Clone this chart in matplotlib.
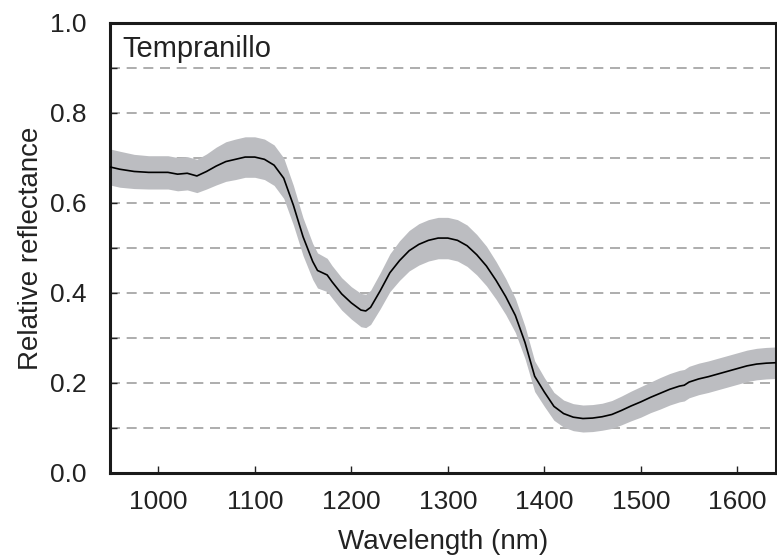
import numpy as np
import matplotlib.pyplot as plt

# wavelength (nm), mean relative reflectance and band half-width
wl = [950, 960, 975, 990, 1000, 1010, 1020, 1030, 1040, 1050, 1060, 1070, 1080, 1090,
      1100, 1110, 1120, 1130, 1140, 1150, 1160, 1165, 1170, 1175, 1180, 1190, 1200,
      1210, 1215, 1220, 1230, 1240, 1250, 1260, 1270, 1280, 1290, 1300, 1310, 1320,
      1330, 1340, 1350, 1360, 1370, 1380, 1390, 1400, 1410, 1420, 1430, 1440, 1450,
      1460, 1470, 1480, 1490, 1500, 1510, 1520, 1530, 1540, 1545, 1550, 1560, 1570,
      1580, 1590, 1600, 1610, 1620, 1630, 1640]
refl = [0.680, 0.675, 0.670, 0.668, 0.668, 0.668, 0.664, 0.666, 0.660, 0.670, 0.682,
        0.692, 0.697, 0.702, 0.702, 0.697, 0.684, 0.655, 0.595, 0.525, 0.470, 0.450,
        0.445, 0.440, 0.425, 0.398, 0.378, 0.362, 0.360, 0.368, 0.405, 0.445, 0.472,
        0.494, 0.508, 0.517, 0.522, 0.522, 0.517, 0.505, 0.485, 0.460, 0.428, 0.392,
        0.350, 0.290, 0.215, 0.180, 0.148, 0.132, 0.124, 0.121, 0.122, 0.125, 0.130,
        0.139, 0.149, 0.158, 0.168, 0.177, 0.186, 0.193, 0.195, 0.202, 0.209, 0.214,
        0.220, 0.226, 0.232, 0.238, 0.242, 0.244, 0.245]
half = [0.040, 0.040, 0.038, 0.037, 0.037, 0.037, 0.037, 0.037, 0.037, 0.039, 0.042,
        0.044, 0.045, 0.045, 0.045, 0.045, 0.045, 0.045, 0.044, 0.042, 0.040, 0.039,
        0.038, 0.037, 0.036, 0.036, 0.036, 0.037, 0.037, 0.038, 0.040, 0.042, 0.044,
        0.045, 0.046, 0.046, 0.046, 0.046, 0.046, 0.046, 0.045, 0.044, 0.042, 0.040,
        0.038, 0.036, 0.034, 0.032, 0.031, 0.030, 0.030, 0.030, 0.030, 0.030, 0.031,
        0.032, 0.033, 0.034, 0.034, 0.035, 0.035, 0.035, 0.035, 0.035, 0.035, 0.035,
        0.035, 0.035, 0.035, 0.035, 0.035, 0.035, 0.035]

wl = np.array(wl)
refl = np.array(refl)
half = np.array(half)

plt.rcParams['font.family'] = ['Liberation Sans', 'DejaVu Sans']
fig = plt.figure(figsize=(7.77, 5.6), dpi=100)
ax = fig.add_axes([0.1416, 0.1554, 0.857, 0.8036])

for y in np.arange(0.1, 1.0, 0.1):
    ax.axhline(y, color='#a0a0a0', lw=1.2, dashes=(6, 4), zorder=1)

ax.fill_between(wl, refl - half, refl + half, color='#bcbdc1', lw=0, zorder=2)
ax.plot(wl, refl, color='black', lw=1.2, zorder=3)

ax.set_xlim(950, 1640)
ax.set_ylim(0, 1)
ax.set_xticks(np.arange(1000, 1601, 100))
ax.set_yticks(np.arange(0, 1.01, 0.2))
ax.set_yticks(np.arange(0.1, 1.0, 0.2), minor=True)
ax.set_yticklabels(['0.0', '0.2', '0.4', '0.6', '0.8', '1.0'])
ax.tick_params(axis='both', which='both', direction='in', labelsize=19, length=5,
               width=1, color='#222222', labelcolor='#222222')
ax.tick_params(axis='x', pad=12)
ax.tick_params(axis='y', pad=17)
for s in ax.spines.values():
    s.set_linewidth(2.2)
    s.set_color('#1a1a1a')

ax.set_xlabel('Wavelength (nm)', fontsize=20, color='#222222', labelpad=11)
ax.set_ylabel('Relative reflectance', fontsize=20, color='#222222', labelpad=4)
ax.text(0.019, 0.924, 'Tempranillo', transform=ax.transAxes, fontsize=21,
        va='baseline', ha='left', color='#222222')

fig.savefig('out.png', dpi=100)
